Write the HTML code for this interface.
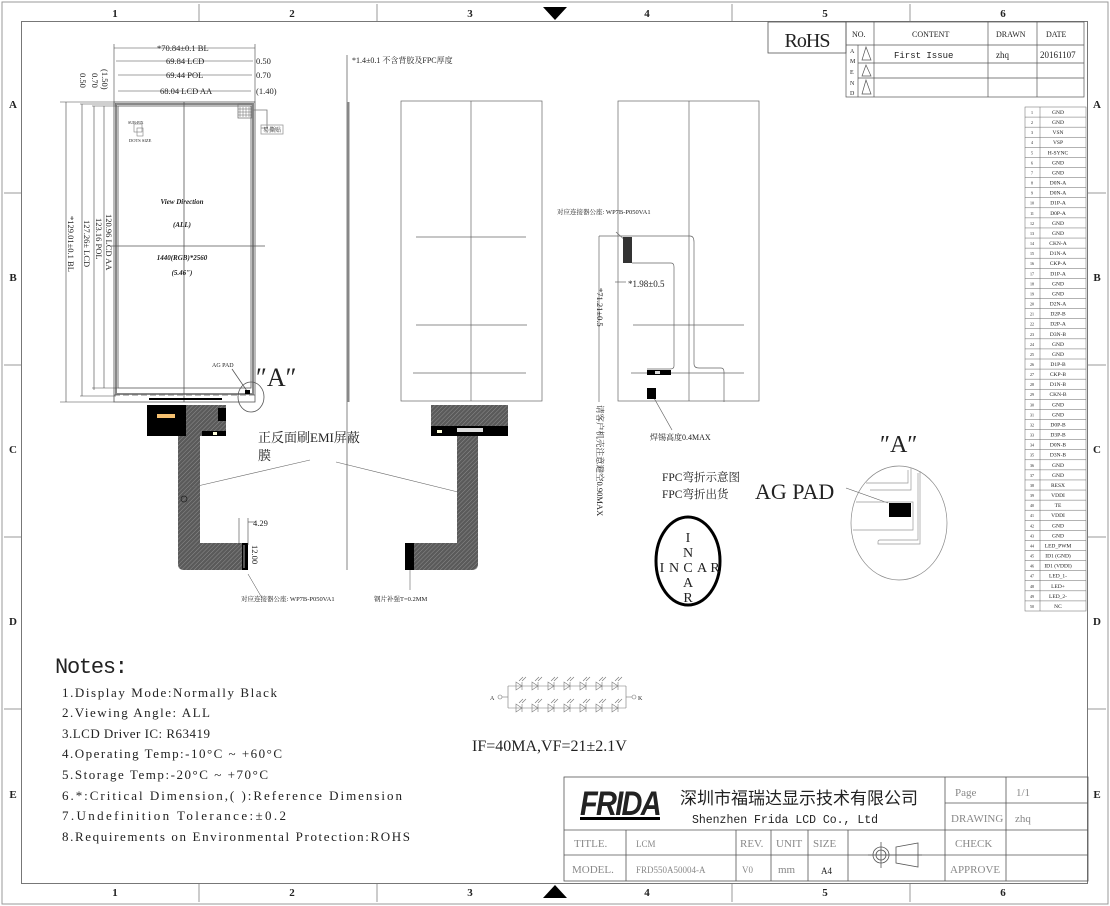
<!DOCTYPE html>
<html><head><meta charset="utf-8"><style>
html,body{margin:0;padding:0;background:#fff;width:1110px;height:906px;overflow:hidden}
svg{display:block}
text{font-family:"Liberation Serif","Noto Serif CJK SC","Noto Sans CJK SC",serif;fill:#222}
.s{font-family:"Liberation Sans","Noto Sans CJK SC",sans-serif}
.m{font-family:"Liberation Mono","Noto Sans CJK SC",monospace}
</style></head><body>
<svg id="sv" width="1110" height="906" viewBox="0 0 1110 906" xmlns="http://www.w3.org/2000/svg">
<defs>
<pattern id="h" width="3" height="3" patternUnits="userSpaceOnUse" patternTransform="rotate(45)">
<rect width="3" height="3" fill="#5a5a5a"/><line x1="0" y1="0" x2="0" y2="3" stroke="#9a9a9a" stroke-width="0.8"/>
</pattern>
</defs>
<!-- frames -->
<rect x="2" y="2" width="1106" height="902" fill="none" stroke="#999" stroke-width="1"/>
<rect x="21.5" y="21.5" width="1066" height="862" fill="none" stroke="#777" stroke-width="1"/>
<g stroke="#999" stroke-width="1">
<line x1="199" y1="4" x2="199" y2="21"/><line x1="377" y1="4" x2="377" y2="21"/><line x1="732" y1="4" x2="732" y2="21"/><line x1="910" y1="4" x2="910" y2="21"/>
<line x1="199" y1="884" x2="199" y2="902"/><line x1="377" y1="884" x2="377" y2="902"/><line x1="732" y1="884" x2="732" y2="902"/><line x1="910" y1="884" x2="910" y2="902"/>
<line x1="4" y1="193" x2="21" y2="193"/><line x1="4" y1="365" x2="21" y2="365"/><line x1="4" y1="537" x2="21" y2="537"/><line x1="4" y1="709" x2="21" y2="709"/>
<line x1="1088" y1="193" x2="1106" y2="193"/><line x1="1088" y1="365" x2="1106" y2="365"/><line x1="1088" y1="537" x2="1106" y2="537"/><line x1="1088" y1="709" x2="1106" y2="709"/>
</g>
<polygon points="543,7 567,7 555,20" fill="#000"/>
<polygon points="543,898 567,898 555,885" fill="#000"/>
<g font-size="11" font-weight="bold" text-anchor="middle">
<text x="115" y="17">1</text><text x="292" y="17">2</text><text x="470" y="17">3</text><text x="647" y="17">4</text><text x="825" y="17">5</text><text x="1003" y="17">6</text>
<text x="115" y="896">1</text><text x="292" y="896">2</text><text x="470" y="896">3</text><text x="647" y="896">4</text><text x="825" y="896">5</text><text x="1003" y="896">6</text>
<text x="13" y="108">A</text><text x="13" y="281">B</text><text x="13" y="453">C</text><text x="13" y="625">D</text><text x="13" y="798">E</text>
<text x="1097" y="108">A</text><text x="1097" y="281">B</text><text x="1097" y="453">C</text><text x="1097" y="625">D</text><text x="1097" y="798">E</text>
</g>

<!-- front view LCD -->
<g fill="none" stroke="#555" stroke-width="0.8">
<rect x="114" y="102" width="141" height="300"/>
<rect x="116" y="104" width="137" height="290" stroke="#888" stroke-width="2"/>
<rect x="118" y="106" width="133" height="282"/>
<line x1="184" y1="102" x2="184" y2="402"/>
<line x1="111" y1="246" x2="265" y2="246"/>
<line x1="114" y1="395" x2="255" y2="395" stroke-dasharray="6 3"/>
<rect x="238" y="104" width="14" height="14" stroke="#777"/>
<path d="M253 110 H267 V128 H261" stroke="#777"/>
<rect x="261" y="125" width="22" height="9" stroke="#999"/>
<ellipse cx="251" cy="397" rx="13" ry="15"/>
<line x1="232" y1="369" x2="247" y2="391"/>
</g>
<g stroke="#666" stroke-width="0.5" fill="none">
<line x1="240" y1="107" x2="240" y2="117"/><line x1="243" y1="107" x2="243" y2="117"/><line x1="246" y1="107" x2="246" y2="117"/><line x1="249" y1="107" x2="249" y2="117"/>
<line x1="238" y1="109" x2="252" y2="109"/><line x1="238" y1="112" x2="252" y2="112"/><line x1="238" y1="115" x2="252" y2="115"/>
<rect x="134" y="124" width="8" height="8"/><rect x="137" y="128" width="6" height="8"/>
</g>
<text x="263" y="132" font-size="6">易撕贴</text>
<text x="129" y="142" font-size="4.5">DOTS SIZE</text>
<text x="128" y="124" font-size="4">SUB-PIX</text>
<rect x="245" y="390" width="5" height="4" fill="#000"/>
<rect x="149" y="398" width="73" height="2" fill="#000"/>
<g font-size="7" font-style="italic" font-weight="bold" text-anchor="middle">
<text x="182" y="204">View Direction</text>
<text x="182" y="227">(ALL)</text>
<text x="182" y="260">1440(RGB)*2560</text>
<text x="182" y="275">(5.46")</text>
</g>
<text x="212" y="367" font-size="6">AG PAD</text>
<text x="256" y="386" font-size="26">″A″</text>

<!-- top dims -->
<g stroke="#444" stroke-width="0.6" fill="none">
<line x1="114" y1="48" x2="255" y2="48"/><line x1="114" y1="44" x2="114" y2="102"/><line x1="255" y1="44" x2="255" y2="102"/>
<line x1="116" y1="61" x2="253" y2="61"/><line x1="118" y1="75" x2="252" y2="75"/><line x1="118" y1="91" x2="251" y2="91"/>
<line x1="66" y1="102" x2="66" y2="402"/><line x1="60" y1="102" x2="114" y2="102"/><line x1="60" y1="402" x2="114" y2="402"/>
<line x1="82" y1="104" x2="82" y2="396"/><line x1="94" y1="106" x2="94" y2="390"/><line x1="104" y1="106" x2="104" y2="388"/>
<line x1="80" y1="104" x2="116" y2="104"/><line x1="92" y1="106" x2="118" y2="106"/>
<line x1="80" y1="396" x2="116" y2="396"/><line x1="92" y1="388" x2="118" y2="388"/>
</g>
<g font-size="8.5">
<text x="157" y="51">*70.84±0.1 BL</text>
<text x="166" y="64">69.84 LCD</text><text x="256" y="64">0.50</text>
<text x="166" y="78">69.44 POL</text><text x="256" y="78">0.70</text>
<text x="160" y="94">68.04 LCD AA</text><text x="256" y="94">(1.40)</text>
</g>
<g font-size="8.5">
<text transform="translate(68,216) rotate(90)">*129.01±0.1 BL</text>
<text transform="translate(84,220) rotate(90)">127.26± LCD</text>
<text transform="translate(96,218) rotate(90)">123.16 POL</text>
<text transform="translate(106,214) rotate(90)">120.96 LCD AA</text>
<text transform="translate(80,73) rotate(90)">0.50</text>
<text transform="translate(92,73) rotate(90)">0.70</text>
<text transform="translate(102,69) rotate(90)">(1.50)</text>
</g>

<!-- side view -->
<line x1="347" y1="55" x2="347" y2="570" stroke="#666" stroke-width="0.8"/>
<rect x="347" y="102" width="2.5" height="300" fill="#888"/>
<text x="352" y="63" font-size="8">*1.4±0.1 不含背胶及FPC厚度</text>

<!-- back view -->
<g fill="none" stroke="#666" stroke-width="0.7">
<rect x="401" y="101" width="141" height="300"/>
<line x1="471" y1="101" x2="471" y2="401"/>
<line x1="416" y1="237" x2="526" y2="237"/><line x1="416" y1="325" x2="527" y2="325"/><line x1="413" y1="373" x2="526" y2="373"/>
</g>
<!-- right view -->
<g fill="none" stroke="#666" stroke-width="0.7">
<rect x="618" y="101" width="141" height="300"/>
<line x1="689" y1="101" x2="689" y2="401"/>
<line x1="633" y1="325" x2="744" y2="325"/><line x1="631" y1="373" x2="744" y2="373"/>
<path d="M622 236 H690 Q694 236 694 242 V364 Q694 368 699 368 H721 Q724 368 724 372 V402"/>
<path d="M632 263 H671 Q674 263 674 267 V366 Q674 369 670 369 H647"/>
<line x1="599" y1="236" x2="622" y2="236"/><line x1="599" y1="236" x2="599" y2="402"/>
<line x1="615" y1="282" x2="626" y2="282"/>
<line x1="654" y1="398" x2="672" y2="430"/>
<line x1="616" y1="232" x2="627" y2="242"/>
</g>
<rect x="623" y="237" width="9" height="26" fill="#333"/>
<rect x="647" y="370" width="24" height="5" fill="#000"/><rect x="655" y="371" width="5" height="3" fill="#ddd"/>
<rect x="647" y="388" width="9" height="11" fill="#000"/>
<text x="557" y="214" font-size="6.5">对应连接器公座: WP7B-P050VA1</text>
<text x="628" y="287" font-size="9">*1.98±0.5</text>
<text transform="translate(597,288) rotate(90)" font-size="8.5">*71.21±0.5</text>
<text transform="translate(597,405) rotate(90)" font-size="8.5">请客户机壳注意避空0.90MAX</text>
<text x="650" y="440" font-size="8">焊锡高度0.4MAX</text>

<!-- FPC front -->
<path d="M147 405 H226 V436 H200 V543 H242 V570 H184 Q178 570 178 564 V436 H147 Z" fill="url(#h)"/>
<rect x="147" y="405" width="39" height="31" fill="#000"/>
<rect x="157" y="414" width="18" height="4" fill="#f5c070"/>
<rect x="218" y="408" width="8" height="13" fill="#000"/>
<rect x="202" y="431" width="24" height="5" fill="#000"/><rect x="213" y="432" width="4" height="3" fill="#ffd"/>
<rect x="242" y="543" width="6" height="27" fill="#000"/><rect x="243.5" y="545" width="1" height="23" fill="#aaa"/>
<line x1="248" y1="522" x2="256" y2="522" stroke="#444" stroke-width="0.6"/><line x1="248" y1="518" x2="248" y2="545" stroke="#444" stroke-width="0.6"/>
<line x1="239" y1="518" x2="239" y2="545" stroke="#444" stroke-width="0.6"/>
<text x="253" y="526" font-size="8.5">4.29</text>
<text transform="translate(252,545) rotate(90)" font-size="8.5">12.00</text>
<line x1="248" y1="574" x2="262" y2="598" stroke="#444" stroke-width="0.5"/>
<text x="241" y="601" font-size="6.5">对应连接器公座: WP7B-P050VA1</text>
<circle cx="184" cy="499" r="3" fill="none" stroke="#222" stroke-width="0.8"/>
<line x1="189" y1="488" x2="310" y2="460" stroke="#666" stroke-width="0.6"/>
<text x="258" y="442" font-size="13">正反面刷EMI屏蔽</text>
<text x="258" y="460" font-size="13">膜</text>
<line x1="336" y1="462" x2="466" y2="494" stroke="#666" stroke-width="0.6"/>

<!-- FPC back -->
<path d="M431 405 H508 V436 H478 V564 Q478 570 472 570 H405 V543 H457 V436 H431 Z" fill="url(#h)"/>
<rect x="431" y="426" width="77" height="10" fill="#000"/>
<rect x="437" y="430" width="5" height="3" fill="#ffd"/>
<rect x="457" y="428" width="26" height="4" fill="#ddd"/>
<rect x="405" y="543" width="9" height="27" fill="#000"/>
<line x1="410" y1="570" x2="410" y2="590" stroke="#444" stroke-width="0.5"/>
<text x="374" y="601" font-size="6.5">钢片补强T=0.2MM</text>

<!-- FPC text & INCAR -->
<text x="662" y="481" font-size="11.5">FPC弯折示意图</text>
<text x="662" y="498" font-size="11.5">FPC弯折出货</text>
<ellipse cx="688" cy="561" rx="32" ry="44" fill="none" stroke="#000" stroke-width="3"/>
<g font-size="14" text-anchor="middle">
<text x="688" y="542">I</text><text x="688" y="557">N</text><text x="688" y="572">C</text><text x="688" y="587">A</text><text x="688" y="602">R</text>
<text x="662" y="572">I</text><text x="674" y="572">N</text><text x="702" y="572">A</text><text x="715" y="572">R</text>
</g>

<!-- detail A -->
<text x="880" y="452" font-size="24">″A″</text>
<text x="755" y="499" font-size="22">AG PAD</text>
<line x1="846" y1="488" x2="888" y2="503" stroke="#555" stroke-width="0.6"/>
<ellipse cx="899" cy="523" rx="48" ry="57" fill="none" stroke="#888" stroke-width="0.7"/>
<g fill="none" stroke="#999" stroke-width="0.7">
<path d="M866 483 H908 V470"/><path d="M870 490 H911 V468"/>
<path d="M856 502 H913 V530 H853"/><path d="M880 540 H918 V473"/>
<path d="M880 540 Q878 540 878 542 V544 H920 V471"/>
</g>
<rect x="889" y="503" width="22" height="14" fill="#000"/>

<!-- RoHS & revision -->
<rect x="768" y="22" width="78" height="31" fill="none" stroke="#555" stroke-width="0.8"/>
<text x="807" y="47" font-size="20" text-anchor="middle" letter-spacing="-1">RoHS</text>
<g fill="none" stroke="#555" stroke-width="0.7">
<rect x="846" y="22" width="238" height="75"/>
<line x1="846" y1="45" x2="1084" y2="45"/><line x1="858" y1="63" x2="1084" y2="63"/><line x1="858" y1="78" x2="1084" y2="78"/>
<line x1="874" y1="22" x2="874" y2="97"/><line x1="858" y1="45" x2="858" y2="97"/>
<line x1="988" y1="22" x2="988" y2="97"/><line x1="1037" y1="22" x2="1037" y2="97"/>
<polygon points="866,47 862,60 871,60"/><polygon points="866,65 862,76 871,76"/><polygon points="866,80 862,94 871,94"/>
</g>
<g font-size="8">
<text x="852" y="37">NO.</text><text x="912" y="37">CONTENT</text><text x="996" y="37">DRAWN</text><text x="1046" y="37">DATE</text>
<text x="894" y="58" class="m" font-size="9">First Issue</text><text x="996" y="58" font-size="9">zhq</text><text x="1040" y="58" font-size="9">20161107</text>
<text x="850" y="53" font-size="6">A</text><text x="850" y="63" font-size="6">M</text><text x="850" y="74" font-size="6">E</text><text x="850" y="85" font-size="6">N</text><text x="850" y="95" font-size="6">D</text>
</g>

<!-- pin table -->
<g id="pins" fill="none" stroke="#666" stroke-width="0.5"></g>
<g id="pint" font-size="5.5" text-anchor="middle"></g>

<!-- Notes -->
<text x="55" y="673" font-size="22" class="m" textLength="73">Notes:</text>
<g font-size="13">
<text x="62" y="697" textLength="215">1.Display Mode:Normally Black</text>
<text x="62" y="717" textLength="148">2.Viewing Angle: ALL</text>
<text x="62" y="738" textLength="148">3.LCD Driver IC: R63419</text>
<text x="62" y="758" textLength="220">4.Operating Temp:-10°C ~ +60°C</text>
<text x="62" y="779" textLength="206">5.Storage Temp:-20°C ~ +70°C</text>
<text x="62" y="800" textLength="340">6.*:Critical Dimension,( ):Reference Dimension</text>
<text x="62" y="820" textLength="224">7.Undefinition Tolerance:±0.2</text>
<text x="62" y="841" textLength="348">8.Requirements on Environmental Protection:ROHS</text>
</g>

<!-- LED -->
<g fill="none" stroke="#777" stroke-width="0.6">
<circle cx="500" cy="697" r="2"/><circle cx="634" cy="697" r="2"/>
<line x1="502" y1="697" x2="508" y2="697"/><line x1="508" y1="686" x2="508" y2="708"/>
<line x1="626" y1="686" x2="626" y2="708"/><line x1="626" y1="697" x2="632" y2="697"/>
<line x1="508" y1="686" x2="626" y2="686"/><line x1="508" y1="708" x2="626" y2="708"/>
<g id="leds"></g>
</g>
<text x="490" y="700" font-size="6">A</text><text x="638" y="700" font-size="6">K</text>
<text x="472" y="751" font-size="16">IF=40MA,VF=21±2.1V</text>

<!-- title block -->
<g fill="none" stroke="#555" stroke-width="0.8">
<rect x="564" y="777" width="524" height="104"/>
<line x1="564" y1="830" x2="1088" y2="830"/><line x1="564" y1="855" x2="1088" y2="855"/>
<line x1="945" y1="777" x2="945" y2="881"/><line x1="1006" y1="777" x2="1006" y2="881"/>
<line x1="945" y1="803" x2="1088" y2="803"/>
<line x1="626" y1="830" x2="626" y2="881"/><line x1="736" y1="830" x2="736" y2="881"/><line x1="771" y1="830" x2="771" y2="881"/>
<line x1="808" y1="830" x2="808" y2="881"/><line x1="848" y1="830" x2="848" y2="881"/>
<circle cx="881" cy="855" r="8"/><circle cx="881" cy="855" r="5"/>
<line x1="868" y1="855" x2="922" y2="855"/><line x1="881" y1="842" x2="881" y2="868"/>
<path d="M896 847 L918 843 V867 L896 863 Z"/>
</g>
<g transform="translate(580,785)">
<text x="0" y="30" font-size="34" font-weight="bold" font-style="italic" class="s" textLength="80" lengthAdjust="spacingAndGlyphs" style="letter-spacing:-2px">FRIDA</text>
<rect x="0" y="32" width="80" height="3" fill="#000"/>
</g>
<text x="680" y="804" font-size="17" class="s" fill="#333">深圳市福瑞达显示技术有限公司</text>
<text x="692" y="823" font-size="11.5" class="m" textLength="186">Shenzhen Frida LCD Co., Ltd</text>
<g class="s" font-size="11" fill="#888" style="fill:#888">
<text x="574" y="847" style="fill:#888">TITLE.</text><text x="636" y="847" font-size="9" style="fill:#888">LCM</text>
<text x="740" y="847" style="fill:#888">REV.</text><text x="776" y="847" style="fill:#888">UNIT</text><text x="813" y="847" style="fill:#888">SIZE</text>
<text x="572" y="873" style="fill:#888">MODEL.</text><text x="636" y="873" font-size="9" style="fill:#888">FRD550A50004-A</text>
<text x="742" y="873" font-size="9" style="fill:#888">V0</text><text x="778" y="873" style="fill:#888">mm</text>
<text x="955" y="796" style="fill:#888">Page</text><text x="1016" y="796" style="fill:#888">1/1</text>
<text x="951" y="822" style="fill:#888">DRAWING</text><text x="1015" y="822" style="fill:#888">zhq</text>
<text x="955" y="847" style="fill:#888">CHECK</text><text x="950" y="873" style="fill:#888">APPROVE</text>
</g>
<text x="821" y="874" font-size="9">A4</text>
</svg>
<script>
(function(){
var NS="http://www.w3.org/2000/svg";
var names=["GND","GND","VSN","VSP","H-SYNC","GND","GND","D0N-A","D0N-A","D1P-A","D0P-A","GND","GND","CKN-A","D1N-A","CKP-A","D1P-A","GND","GND","D2N-A","D2P-B","D2P-A","D3N-B","GND","GND","D1P-B","CKP-B","D1N-B","CKN-B","GND","GND","D0P-B","D3P-B","D0N-B","D3N-B","GND","GND","RESX","VDDI","TE","VDDI","GND","GND","LED_PWM","ID1 (GND)","ID1 (VDDI)","LED_1-","LED+","LED_2-","NC"];
var g=document.getElementById("pins"),t=document.getElementById("pint");
function el(p,n,a,tx){var e=document.createElementNS(NS,n);for(var k in a)e.setAttribute(k,a[k]);if(tx)e.textContent=tx;p.appendChild(e);}
el(g,"rect",{x:1025,y:107,width:61,height:504});
el(g,"line",{x1:1040,y1:107,x2:1040,y2:611});
var p=504/50;
for(var i=0;i<50;i++){var y=107+i*p;
 if(i>0)el(g,"line",{x1:1025,y1:y,x2:1086,y2:y});
 el(t,"text",{x:1032,y:y+7,"font-size":4},String(i+1));
 el(t,"text",{x:1058,y:y+7},names[i]);}
var L=document.getElementById("leds");
for(var r=0;r<2;r++){var yy=r?708:686;for(var j=0;j<7;j++){var x=516+j*16;
 el(L,"polygon",{points:(x)+","+(yy-4)+" "+(x)+","+(yy+4)+" "+(x+6)+","+yy});
 el(L,"line",{x1:x+6,y1:yy-4,x2:x+6,y2:yy+4});
 el(L,"line",{x1:x+3,y1:yy-5,x2:x+7,y2:yy-9});el(L,"line",{x1:x+6,y1:yy-5,x2:x+10,y2:yy-9});}}
})();
</script>
</body></html>
